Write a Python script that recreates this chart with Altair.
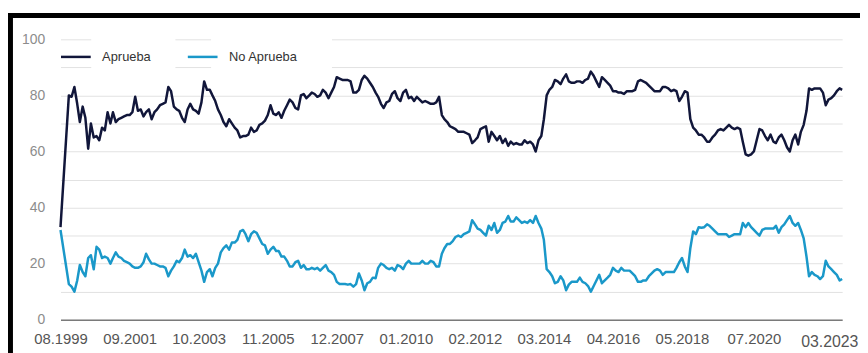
import altair as alt
import pandas as pd

# Survey series (percent). First survey 08.1999, then monthly from 11.1999 to 03.2023
first_survey = "1999-08-01"
monthly_start = "1999-11-01"

aprueba = [
    33,
    80, 79.5, 83, 77, 70.5, 76, 72, 61, 70, 65, 65.5, 64, 68.5, 67.5, 74, 70, 74, 70.5, 71.5, 72,
    72.5, 73, 73, 74, 79.5, 74.5, 75, 72.5, 74, 75, 71.5, 74, 75, 76.5, 77, 77.5, 83, 81.5, 76, 75,
    74.5, 72, 70.5,
    75, 77, 75, 74.5, 73.5, 77.5, 85, 82, 82, 80, 78, 75, 73, 70.5, 69, 71.5, 70, 68.5, 67.5, 65,
    65.5, 65.5, 66, 68.5, 67, 67.5, 69.5, 70, 71, 73, 76.5, 73.5, 73, 74, 72, 74.5, 76.5, 78.5, 77.5,
    75.5, 75, 80, 80.5, 79, 80,
    81, 80.5, 79.5, 80, 82, 81, 79, 81, 83, 86.5, 86, 85.5, 85.5, 85.5, 85, 81, 81, 82, 85.5, 87,
    86, 84.5, 83, 81, 79.5, 77, 75.5, 77.5, 78, 80.5, 81.5, 79, 78, 81, 82, 79, 79.5, 78, 79.5, 78.5,
    77.5, 78, 77.5, 77, 77, 77.5, 79.5, 73, 71.5,
    70.5, 69, 68.5, 68, 67, 67, 67, 66.5, 66, 63, 64, 65, 68, 68.5, 69, 63.5, 67, 65.5, 64, 65.5,
    63, 64.5, 62, 63.5, 62.5, 63, 62.5, 62.5, 64, 63, 63.5, 62.5, 60, 64, 65.5, 71.5, 80, 82, 83, 85.5,
    85, 84, 86, 87.5, 85, 84.5,
    84.5, 85, 85, 84.5, 85.5, 86, 88.5, 87, 85, 83, 86.5, 85.5, 84.5, 83.5, 81.5, 81.5, 81, 81, 80.5, 81.5,
    81.5, 81.5, 82, 85, 85.5, 85, 84.5, 83.5, 82.5, 81.5, 81.5, 81.5, 83, 83, 82.5, 81.5, 82, 81.5, 78, 79.5,
    81.5, 81, 71.5, 68.5, 67.5, 66, 66, 65,
    63.5, 63.5, 65, 66, 67.5, 68, 67.5, 68.5, 69.5, 68.5, 68, 68.5, 68, 63.5, 59, 58.5, 59, 60, 64, 68,
    67.5, 65.5, 64, 66, 63.5, 63, 65, 66, 64, 61.5, 60, 64, 66, 62.5, 67, 69.5, 74.5, 82.5, 82, 82.5,
    82.5, 82.5, 81, 76.5, 78.5, 79, 80, 81.5, 82.5, 82,
]

no_aprueba = [
    32,
    12.7, 11.8, 10, 14, 19.5, 17, 15.5, 22, 23, 18, 26, 25, 22, 22.5, 22, 20, 22, 24, 22.5, 22,
    21, 20.5, 20, 19, 18.5, 18.5, 19, 20.5, 23.5, 21.5, 20, 20, 19.5, 19, 19, 18.5, 15.5, 17.5, 19, 21,
    20.5, 22, 25,
    22.5, 23, 22, 23.5, 20.5, 17.5, 13.5, 17, 18, 15.5, 18.5, 20, 24, 25.5, 26.5, 25, 27.5, 27.5, 28.5, 31.5,
    32, 30.5, 28, 30.5, 31.5, 31, 29, 27, 26.5, 23.5, 25, 26, 24.5, 24.5, 22.5, 22.5, 21, 19, 19,
    20.5, 21, 18.5, 19.5, 18, 18,
    18.5, 18, 18.5, 17.5, 18.5, 19.5, 17.5, 17, 16, 13.5, 12.7, 12.7, 12.7, 12.5, 12.7, 11.8, 12.7, 16.5, 14, 10.5,
    13, 13.5, 15, 14.8, 18.5, 20, 19.5, 18.5, 18, 18.5, 17.5, 19.5, 19, 18, 20, 21, 20, 20, 20, 20,
    21, 20, 20, 21, 20.5, 19, 19, 23.5, 25.5,
    27, 27, 28, 29.5, 30, 29.5, 30.5, 31, 31.5, 35.5, 34, 32.5, 32, 31, 30, 33.5, 32, 34.5, 31, 32,
    34.5, 35, 37, 35, 35, 36.5, 35.5, 34.5, 35, 34.5, 35.5, 34.5, 37, 34.5, 32.5, 28.5, 18, 17, 15.5, 13,
    13.5, 15.5, 14, 10.5, 12.5, 13.5,
    13.5, 13.5, 15, 13.5, 13, 12, 10, 12, 14, 16, 13, 14, 15, 16, 18.5, 17.5, 17, 18.5, 17.5, 17.5,
    17.5, 16.5, 15.5, 13.5, 13.5, 14, 14, 15.5, 16.5, 17.5, 18, 17.5, 16, 17, 17, 17, 17, 18.5, 20.5, 22,
    19, 17, 25.5, 31.5, 30.5, 33, 32.8, 33,
    34, 33.5, 32.5, 31.5, 30.5, 30.5, 30.5, 30.5, 29.5, 30, 30.5, 30.5, 30.5, 34.5, 33, 34.5, 33, 32, 31, 30,
    32, 32.5, 32.5, 32.5, 32.5, 33.5, 31, 33, 34, 35.5, 37, 34.5, 33.5, 34.5, 32, 29, 22.5, 15.5, 17, 16,
    15.5, 14.5, 15.5, 21, 19, 18, 17, 16, 14, 14.5,
]

series_names = ["Aprueba", "No Aprueba"]
series_colors = ["#11163a", "#1a98c9"]
tick_labels = ["08.1999", "09.2001", "10.2003", "11.2005", "12.2007", "01.2010",
               "02.2012", "03.2014", "04.2016", "05.2018", "07.2020", "03.2023"]

dates = [pd.Timestamp(first_survey)] + list(
    pd.date_range(monthly_start, periods=len(aprueba) - 1, freq="MS"))
date_str = [d.strftime("%Y-%m-%d") for d in dates]

df = pd.concat([
    pd.DataFrame({"fecha": date_str, "serie": series_names[0], "valor": aprueba}),
    pd.DataFrame({"fecha": date_str, "serie": series_names[1], "valor": no_aprueba}),
])


def to_dt(label):
    m, y = label.split(".")
    return alt.DateTime(year=int(y), month=int(m), date=1, utc=True)


tick_values = [to_dt(t) for t in tick_labels]
FONT = "Liberation Sans"

lines = alt.Chart(df).mark_line(strokeWidth=2.5, strokeJoin="round").encode(
    x=alt.X(
        "fecha:T",
        scale=alt.Scale(type="utc", domain=[tick_values[0], tick_values[-1]]),
        axis=alt.Axis(
            values=tick_values,
            labelExpr="utcFormat(datum.value, '%m.%Y')",
            title=None, grid=False, ticks=False,
            domainColor="#7a7a7a", domainWidth=1.5,
            labelFont=FONT, labelColor="#555555",
            labelFontSize={"condition": {"test": "datum.index === 1", "value": 16}, "value": 15},
            labelOffset={"condition": {"test": "datum.index === 1", "value": -13}, "value": 0},
            labelPadding={"condition": {"test": "datum.index === 1", "value": 14}, "value": 12},
            labelFlush=False, labelOverlap=False,
        ),
    ),
    y=alt.Y(
        "valor:Q",
        scale=alt.Scale(domain=[0, 100], nice=False),
        axis=alt.Axis(
            values=list(range(0, 101, 10)),
            labelExpr="datum.value % 20 === 0 ? datum.label : ''",
            title=None, domain=False, ticks=False,
            gridColor="#e2e2e2", gridWidth=1,
            labelFont=FONT, labelFontSize=14, labelColor="#8c8c8c", labelPadding=16,
        ),
    ),
    color=alt.Color(
        "serie:N",
        scale=alt.Scale(domain=series_names, range=series_colors),
        legend=alt.Legend(
            orient="none", legendX=-1, legendY=1, direction="horizontal",
            title=None, symbolType="stroke", symbolSize=900, symbolStrokeWidth=2.5,
            labelFont=FONT, labelFontSize=13, labelColor="#333333",
            labelOffset=10, columnPadding=31, padding=0,
        ),
    ),
)

# white boxes behind the legend labels (they hide the top gridlines there)
legend_mask = alt.Chart(alt.Data(values=[{"a": 31, "b": 116}, {"a": 152, "b": 274}])).mark_rect(
    fill="white"
).encode(
    x=alt.X("a:Q", scale=None), x2="b:Q", y=alt.value(-6), y2=alt.value(33)
)

frame = alt.Chart(alt.Data(values=[{}])).mark_rect(
    fillOpacity=0, stroke="black", strokeWidth=5
).encode(
    x=alt.value(-50.5), x2=alt.value(860), y=alt.value(-24), y2=alt.value(380)
)

chart = alt.layer(legend_mask, lines, frame).resolve_scale(x="independent").properties(
    width=789, height=283, autosize="none",
    padding={"left": 53, "top": 30, "right": 18, "bottom": 32},
    background="white",
).configure_view(strokeWidth=0)

chart.save("out.html", embed_options={"renderer": "svg", "actions": False})
